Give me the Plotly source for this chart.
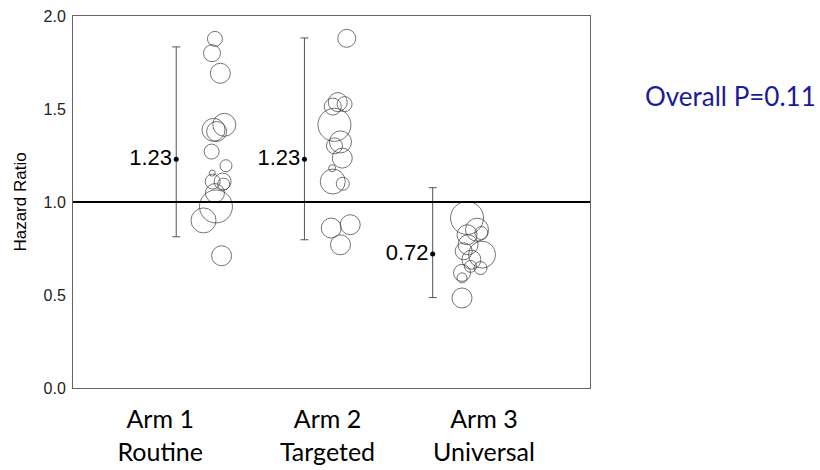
import plotly.graph_objects as go

# ---- data ----
arm_pos = [1, 2, 3]
arm_labels = ["Arm 1<br>Routine", "Arm 2<br>Targeted", "Arm 3<br>Universal"]
label_pos = [0.875, 2.18, 3.40]

pooled_hr = [1.23, 1.23, 0.72]
ci_low = [0.813, 0.797, 0.486]
ci_high = [1.834, 1.882, 1.077]

# study-level hazard ratios, horizontal jitter (offset from arm position) and bubble diameters
arm1_hr = [1.877, 1.80, 1.692, 1.415, 1.388, 1.379, 1.271, 1.195, 1.155, 1.110, 1.110, 1.096, 1.048, 0.976, 0.901, 0.711]
arm1_jit = [0.302, 0.279, 0.344, 0.375, 0.291, 0.315, 0.276, 0.388, 0.281, 0.284, 0.362, 0.370, 0.302, 0.310, 0.213, 0.354]
arm1_size = [15, 17, 20, 23, 23, 20, 15, 12, 6, 15, 17, 12, 19, 33, 25, 20]

arm2_hr = [1.880, 1.537, 1.513, 1.526, 1.415, 1.323, 1.302, 1.236, 1.182, 1.110, 1.098, 0.860, 0.878, 0.770]
arm2_jit = [0.330, 0.260, 0.221, 0.313, 0.234, 0.281, 0.234, 0.295, 0.216, 0.221, 0.299, 0.209, 0.357, 0.281]
arm2_size = [18, 19, 17, 15, 33, 22, 16, 20, 7, 25, 13, 20, 20, 20]

arm3_hr = [0.914, 0.851, 0.824, 0.833, 0.770, 0.717, 0.735, 0.690, 0.645, 0.654, 0.619, 0.592, 0.484]
arm3_jit = [0.268, 0.346, 0.268, 0.380, 0.276, 0.385, 0.242, 0.302, 0.373, 0.295, 0.229, 0.229, 0.229]
arm3_size = [33, 23, 20, 13, 20, 27, 17, 19, 13, 12, 17, 10, 20]

y_ticks = [0.0, 0.5, 1.0, 1.5, 2.0]
p_text = "Overall P=0.11"

fig = go.Figure()

studies = [(arm1_hr, arm1_jit, arm1_size), (arm2_hr, arm2_jit, arm2_size), (arm3_hr, arm3_jit, arm3_size)]
for pos, (hr, jit, sz) in zip(arm_pos, studies):
    fig.add_trace(go.Scatter(
        x=[pos + j for j in jit], y=hr, mode="markers",
        marker=dict(size=sz, sizemode="diameter", color="rgba(0,0,0,0)",
                    line=dict(color="#3a3a3a", width=1)),
        showlegend=False, hoverinfo="y"))

fig.add_trace(go.Scatter(
    x=arm_pos, y=pooled_hr, mode="markers+text",
    marker=dict(size=5, color="black"),
    text=[f"{v:.2f}" for v in pooled_hr], textposition="middle left",
    textfont=dict(family="Liberation Sans, Arial", size=22, color="black"),
    error_y=dict(type="data", symmetric=False,
                 array=[h - m for h, m in zip(ci_high, pooled_hr)],
                 arrayminus=[m - l for l, m in zip(ci_low, pooled_hr)],
                 color="#555555", thickness=1, width=4),
    showlegend=False))

fig.add_hline(y=1.0, line=dict(color="black", width=2))

fig.add_annotation(text=p_text, xref="paper", yref="paper", x=1.102, y=0.785,
                   xanchor="left", yanchor="middle", showarrow=False,
                   font=dict(family="Lato, Open Sans", size=26, color="#1a1a9c"))

fig.update_xaxes(range=[0.195, 4.227], tickvals=label_pos, ticktext=arm_labels,
                 showline=True, mirror=True, linecolor="#666666", linewidth=1,
                 showgrid=False, zeroline=False, ticks="", ticklabelstandoff=9,
                 automargin=False,
                 tickfont=dict(family="Lato, Open Sans", size=25, color="black"))
fig.update_yaxes(range=[0, 2], tickvals=y_ticks, tickformat=".1f",
                 showline=True, mirror=True, linecolor="#666666", linewidth=1,
                 showgrid=False, zeroline=False, ticks="", ticklabelstandoff=3,
                 automargin=False,
                 title=dict(text="Hazard Ratio", font=dict(family="Liberation Sans, Arial", size=17, color="black"), standoff=12),
                 tickfont=dict(family="Liberation Sans, Arial", size=16, color="#222222"))

fig.update_layout(width=820, height=470, plot_bgcolor="white", paper_bgcolor="white",
                  margin=dict(l=73, r=230, t=16, b=82))

fig.write_html("out.html")
